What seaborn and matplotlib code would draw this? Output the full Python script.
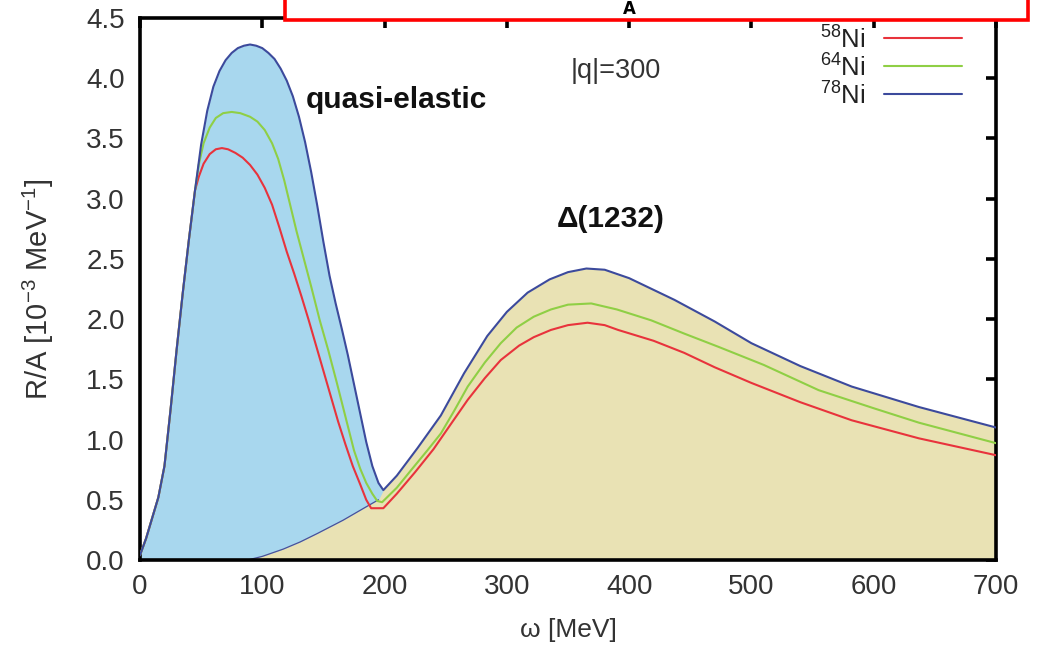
import numpy as np
import pandas as pd
import seaborn as sns
import matplotlib
matplotlib.use("Agg")
import matplotlib.pyplot as plt
from matplotlib.patches import Rectangle

# --- response R/A [1e-3 MeV^-1] versus energy transfer omega [MeV], |q| = 300 ---
nuclei = ["$^{58}$Ni", "$^{64}$Ni", "$^{78}$Ni"]

# quasi-elastic branch (omega, R/A) per nucleus
w_qe_58 = [0, 5, 10, 15, 20, 25, 30, 35, 40, 45, 48, 52, 57, 62, 67, 72, 78, 84, 90, 96, 102, 108,
           114, 120, 126, 132, 138, 144, 150, 156, 162, 168, 174, 180, 185, 189]
r_qe_58 = [0.04, 0.18, 0.35, 0.52, 0.78, 1.25, 1.75, 2.22, 2.66, 3.07, 3.18, 3.29, 3.37, 3.41, 3.42, 3.41, 3.38, 3.34, 3.28, 3.20, 3.09, 2.95,
           2.76, 2.56, 2.38, 2.19, 1.99, 1.78, 1.57, 1.36, 1.15, 0.96, 0.78, 0.63, 0.50, 0.43]

w_qe_64 = [0, 5, 10, 15, 20, 25, 30, 35, 40, 45, 48, 52, 57, 62, 68, 75, 82, 90, 96, 102, 108, 113,
           118, 123, 128, 134, 140, 147, 154, 161, 168, 175, 180, 185, 190, 194]
r_qe_64 = [0.04, 0.18, 0.35, 0.52, 0.78, 1.25, 1.75, 2.22, 2.66, 3.07, 3.28, 3.46, 3.59, 3.67, 3.71, 3.72, 3.71, 3.68, 3.64, 3.57, 3.46, 3.33,
           3.15, 2.94, 2.73, 2.50, 2.27, 1.99, 1.74, 1.47, 1.19, 0.91, 0.76, 0.64, 0.55, 0.49]

w_qe_78 = [0, 5, 10, 15, 20, 25, 30, 35, 40, 45, 50, 55, 60, 65, 70, 75, 80, 85, 90, 95, 100, 105, 110,
           115, 120, 125, 130, 135, 140, 145, 150, 155, 160, 165, 170, 175, 180, 185, 190, 195, 199]
r_qe_78 = [0.04, 0.18, 0.35, 0.52, 0.78, 1.25, 1.75, 2.22, 2.66, 3.07, 3.45, 3.73, 3.93, 4.06, 4.15, 4.21, 4.25, 4.27, 4.28, 4.27, 4.25, 4.21, 4.16,
           4.08, 3.98, 3.85, 3.68, 3.47, 3.22, 2.94, 2.64, 2.36, 2.13, 1.92, 1.70, 1.46, 1.22, 0.98, 0.78, 0.64, 0.58]

# Delta(1232) branch (omega, R/A) per nucleus
w_d_58 = [199, 210, 225, 240, 255, 268, 282, 295, 310, 322, 336, 350, 366, 380, 391, 420, 445, 470, 500, 540, 582, 637, 700]
r_d_58 = [0.43, 0.55, 0.73, 0.92, 1.14, 1.33, 1.51, 1.66, 1.78, 1.85, 1.91, 1.95, 1.97, 1.95, 1.91, 1.82, 1.72, 1.60, 1.47, 1.31, 1.16, 1.01, 0.87]

w_d_64 = [198, 210, 222, 235, 246, 257, 268, 282, 295, 308, 322, 336, 350, 369, 390, 418, 445, 473, 510, 555, 600, 637, 700]
r_d_64 = [0.48, 0.60, 0.75, 0.91, 1.05, 1.24, 1.44, 1.64, 1.80, 1.93, 2.02, 2.08, 2.12, 2.13, 2.08, 1.99, 1.88, 1.77, 1.62, 1.41, 1.26, 1.14, 0.97]

w_d_78 = [199, 210, 227, 246, 265, 284, 300, 317, 335, 350, 365, 380, 400, 437, 470, 500, 540, 582, 637, 700]
r_d_78 = [0.58, 0.70, 0.93, 1.20, 1.55, 1.86, 2.06, 2.22, 2.33, 2.39, 2.42, 2.41, 2.34, 2.16, 1.98, 1.80, 1.61, 1.44, 1.27, 1.10]

# onset of the Delta contribution for 78Ni below the crossing point
w_don_78 = [88, 100, 117, 131, 145, 166, 183, 195]
r_don_78 = [0.0, 0.03, 0.09, 0.15, 0.22, 0.33, 0.43, 0.50]

colors = ["#e8333c", "#8fcf45", "#3c4a9c"]
qe_fill = "#a8d7ee"
delta_fill = "#e9e2b4"

rows = []
for name, wq, rq, wd, rd in [
    (nuclei[0], w_qe_58, r_qe_58, w_d_58, r_d_58),
    (nuclei[1], w_qe_64, r_qe_64, w_d_64, r_d_64),
    (nuclei[2], w_qe_78, r_qe_78, w_d_78, r_d_78),
]:
    for w, r in zip(list(wq) + list(wd), list(rq) + list(rd)):
        rows.append({"nucleus": name, "omega": w, "R": r})
df = pd.DataFrame(rows)

sns.set_theme(style="white")
plt.rcParams["font.family"] = ["Liberation Sans", "DejaVu Sans"]
plt.rcParams["mathtext.fontset"] = "custom"
plt.rcParams["mathtext.rm"] = "Liberation Sans"
plt.rcParams["mathtext.it"] = "Liberation Sans:italic"
plt.rcParams["mathtext.bf"] = "Liberation Sans:bold"

fig = plt.figure(figsize=(10.37, 6.46), dpi=100)
ax = fig.add_axes([140 / 1037, 86 / 646, (996 - 140) / 1037, (560 - 18) / 646])

# shaded contributions of 78Ni
ax.fill_between(w_qe_78, 0, r_qe_78, color=qe_fill, lw=0, zorder=1)
ax.fill_between(w_don_78 + w_d_78, 0, r_don_78 + r_d_78, color=delta_fill, lw=0, zorder=1.5)
ax.plot(w_don_78, r_don_78, color="#4a5098", lw=0.9, zorder=2)

sns.lineplot(data=df, x="omega", y="R", hue="nucleus", hue_order=nuclei,
             palette=colors, sort=False, estimator=None, units="nucleus",
             lw=1.5, ax=ax, legend=False, zorder=3)

ax.set_xlim(0, 700)
ax.set_ylim(0, 4.5)
ax.set_xticks(np.arange(0, 701, 100))
ax.set_yticks(np.arange(0, 4.51, 0.5))
ax.set_yticklabels([f"{v:.1f}" for v in np.arange(0, 4.51, 0.5)])
ax.tick_params(direction="in", length=7.5, width=2.6, top=True, right=True,
               labelsize=20, colors="black", labelcolor="#333333")
ax.tick_params(axis="x", pad=10)
ax.tick_params(axis="y", pad=11)
for s in ax.spines.values():
    s.set_linewidth(2.6)
    s.set_color("black")

ax.set_xlabel("ω [MeV]", fontsize=19, color="#333333")
ax.set_ylabel("R/A [10$^{-3}$ MeV$^{-1}$]", fontsize=21, color="#333333")
ax.xaxis.set_label_coords(0.5, -0.107)
ax.yaxis.set_label_coords(-0.098, 0.5)

ax.text(210, 3.82, "quasi-elastic", fontsize=21.5, fontweight="bold", ha="center", va="center", color="#111111")
ax.text(385, 2.83, "Δ(1232)", fontsize=21.5, fontweight="bold", ha="center", va="center", color="#111111")
ax.text(389, 4.06, "|q|=300", fontsize=19.5, ha="center", va="center", color="#333333")

# key: label on the left, line sample on the right, one row per nucleus
key_rows_px = [40, 68, 96]
for name, c, ypx in zip(nuclei, colors, key_rows_px):
    ya = (560 - ypx) / 542
    ax.text((866 - 140) / 856, ya, name, transform=ax.transAxes, ha="right", va="center",
            fontsize=18.5, color="#222222")
    ax.plot([(884 - 140) / 856, (962 - 140) / 856], [ya + 0.004, ya + 0.004], transform=ax.transAxes,
            color=c, lw=1.5)

# panel tag box at the top edge
fig.add_artist(Rectangle((285 / 1037, (646 - 20) / 646), (1028 - 285) / 1037, 0.1,
                         transform=fig.transFigure, facecolor="white", edgecolor="#ff0000",
                         lw=2.6, zorder=5, clip_on=False))
fig.text(629 / 1037, (646 - 9) / 646, "A", fontsize=12, fontweight="bold", ha="center", va="center",
         color="black", zorder=6, family="DejaVu Sans")

fig.savefig("out.png", dpi=100)
